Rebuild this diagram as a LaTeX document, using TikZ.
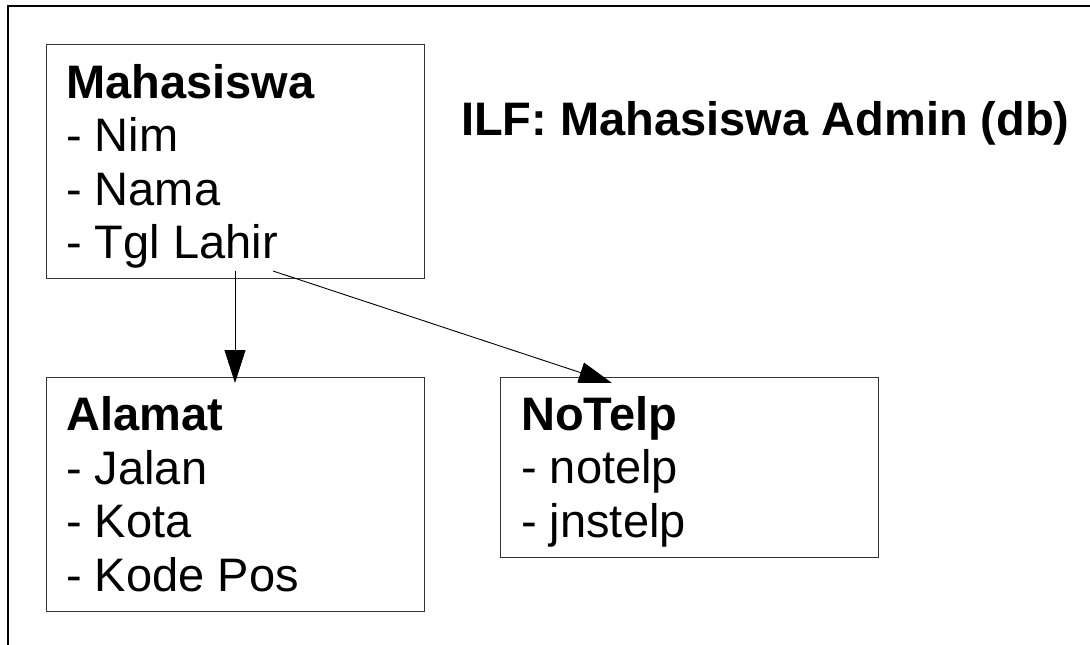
\documentclass[tikz,border=0pt]{standalone}
\usepackage{fontspec}
\setmainfont{Liberation Sans}
\usetikzlibrary{arrows.meta}
\tikzset{
	entity/.style={draw=black!80, line width=1.3pt, anchor=north west, inner sep=0pt, minimum width=378pt},
	fields/.style={anchor=base west, align=left, inner sep=0pt, font=\fontsize{47}{53.5}\selectfont},
	link/.style={-{Triangle[length=33pt,width=21pt]}, line width=0.9pt}
}
\begin{document}
\begin{tikzpicture}[x=1pt,y=-1pt]
		\useasboundingbox (0,0) rectangle (1090,645);
		\draw[line width=1.6pt] (8,645) -- (8,6) -- (1090,6);
		% entities
		\node[entity, minimum height=234pt] (mhs) at (46,44) {};
		\node[entity, minimum height=234pt] (alamat) at (46,377) {};
		\node[entity, minimum height=180pt] (telp) at (500,377) {};
		% base = last line
		\node[fields] (mhs-txt) at ([shift={(20,214.5)}]mhs.north west) {\textbf{Mahasiswa}\\- Nim\\- Nama\\- Tgl Lahir};
		\node[fields] (alamat-txt) at ([shift={(20,214)}]alamat.north west) {\textbf{Alamat}\\- Jalan\\- Kota\\- Kode Pos};
		\node[fields] (telp-txt) at ([shift={(21,160)}]telp.north west) {\textbf{NoTelp}\\- notelp\\- jnstelp};
		\node[fields, font=\fontsize{47}{54}\selectfont\bfseries] (judul) at (461,135) {ILF: Mahasiswa Admin (db)};
		% relasi
		\coordinate (mhs-a) at (235,271);
		\coordinate (mhs-b) at (273,271);
		\coordinate (alamat-in) at (235,383);
		\coordinate (telp-in) at (612,383);
		\draw[link] (mhs-a) -- (alamat-in);
		\draw[link] (mhs-b) -- (telp-in);
	\end{tikzpicture}
\end{document}
